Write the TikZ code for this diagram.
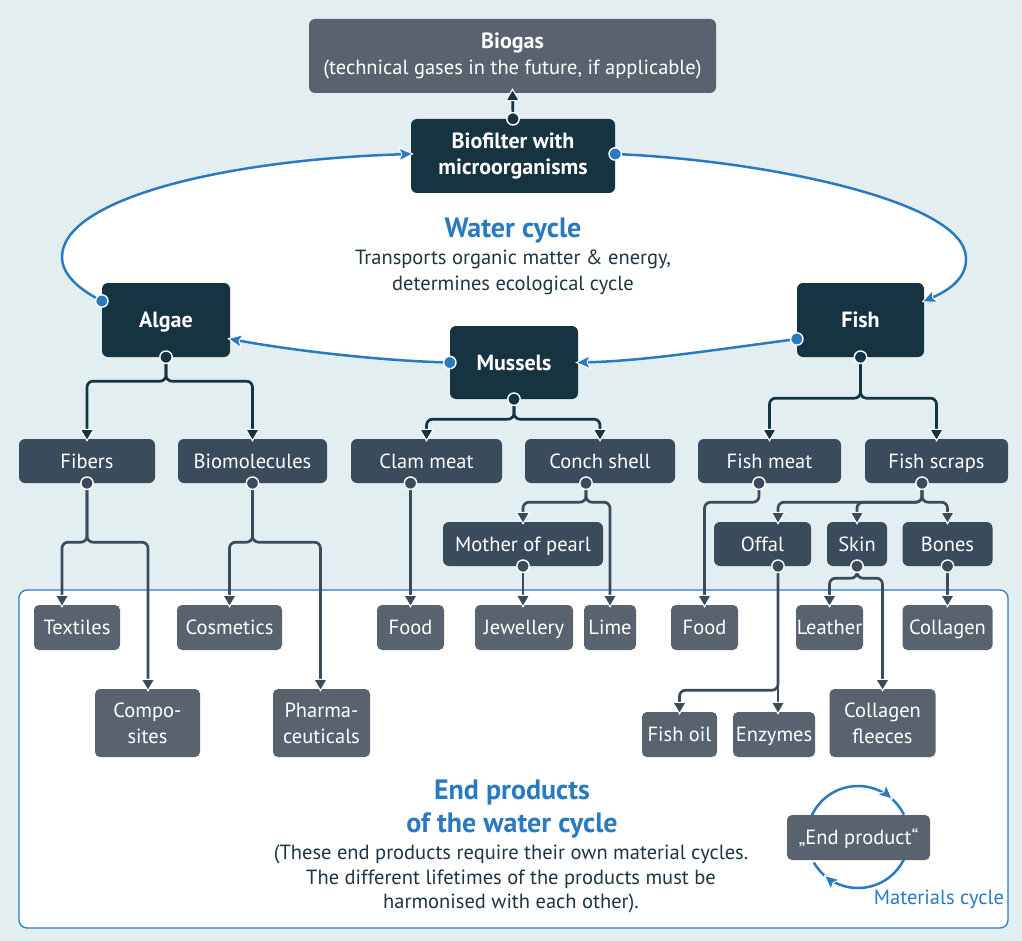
\documentclass[tikz,border=0pt]{standalone}
\usepackage{fontspec}
\setmainfont{PT Sans}
\usetikzlibrary{arrows.meta,calc}
\definecolor{bg}{HTML}{E3EEF1}
\definecolor{deep}{HTML}{163341}
\definecolor{mid}{HTML}{3A4B5B}
\definecolor{soft}{HTML}{58636F}
\definecolor{wblue}{HTML}{2A7AC2}
\definecolor{ink}{HTML}{1E3442}
\newcommand\nodefont{\fontsize{20.5}{26}\selectfont}
\newcommand\boldfont{\bfseries\fontsize{22}{26}\selectfont}
\newcommand\jointdot[2]{\filldraw[fill=#1,draw=white,line width=1.4pt] (#2) circle (6.2pt);}
\begin{document}
\begin{tikzpicture}[x=1pt,y=-1pt,
  box/.style={rounded corners=6pt,text=white,align=center,inner sep=0pt,font=\nodefont},
  oneline/.style={text height=14.4pt,text depth=0pt},
  boldline/.style={text height=15.4pt,text depth=0pt},
  topbox/.style={box,fill=deep,minimum height=74pt,font=\boldfont},
  midbox/.style={box,oneline,fill=mid,minimum height=44pt},
  endbox/.style={box,oneline,fill=soft,minimum height=45pt,rounded corners=5pt},
  tallbox/.style={box,fill=soft,minimum height=68pt,rounded corners=5pt},
  wd/.style={minimum width=#1pt},
  tree/.style={line width=2.7pt,draw=#1,rounded corners=6pt,shorten >=-3pt,
    -{Triangle[length=13pt,width=15pt,fill=#1,color=white,line width=1.1pt]}},
  tree/.default=mid,
  wline/.style={line width=2.5pt,draw=wblue,shorten >=-3pt,
    -{Stealth[length=16pt,width=15pt,inset=3.5pt,fill=wblue,color=white,line width=0.9pt]}},
  cycarc/.style={line width=2.5pt,draw=wblue},
]
% canvas
\useasboundingbox (0,0) rectangle (1022,941);
\fill[bg] (0,0) rectangle (1022,941);

% inner area of the water cycle
\fill[white] (411,154) .. controls (220,160) and (62,200) .. (62,257)
  .. controls (62,275) and (80,290) .. (102,301) -- (166,320) -- (228,339)
  .. controls (290,350) and (380,358) .. (450,362) -- (578,362)
  .. controls (640,360) and (700,352) .. (797,339) -- (860,320) -- (924,301)
  .. controls (945,292) and (967,280) .. (966,258)
  .. controls (965,200) and (760,160) .. (615,154) -- cycle;

% frame of the end products
\draw[wblue,line width=1.3pt,fill=white,rounded corners=8pt] (19,590) rectangle (1008,928);

% main stations
\node[box,fill=soft,wd=407,minimum height=74pt] (biogas) at (512.5,56)
  {{\boldfont Biogas}\\(technical gases in the future, if applicable)};
\node[topbox,wd=204] (bio) at (513,156) {Biofilter with\\microorganisms};
\node[topbox,boldline,wd=128] (algae) at (166,320) {Algae};
\node[topbox,boldline,wd=128,minimum height=73pt] (mussels) at (514,362.5) {Mussels};
\node[topbox,boldline,wd=127] (fish) at (860.5,320) {Fish};

% intermediate products
\node[midbox,wd=136] (fibers) at (87,461) {Fibers};
\node[midbox,wd=149] (biomol) at (252.5,461) {Biomolecules};
\node[midbox,wd=151] (clam) at (426.5,461) {Clam meat};
\node[midbox,wd=150] (conch) at (600,461) {Conch shell};
\node[midbox,wd=143] (fishmeat) at (769.5,461) {Fish meat};
\node[midbox,wd=143] (scraps) at (936.5,461) {Fish scraps};
\node[midbox,wd=160] (pearl) at (523,544) {Mother of pearl};
\node[midbox,wd=97] (offal) at (762.5,544) {Offal};
\node[midbox,wd=60] (skin) at (857,544) {Skin};
\node[midbox,wd=90] (bones) at (947.5,544) {Bones};

% end products
\node[endbox,wd=86] (textiles) at (77,627.5) {Textiles};
\node[endbox,wd=105] (cosmetics) at (229.5,627.5) {Cosmetics};
\node[endbox,wd=67] (food1) at (410.5,627.5) {Food};
\node[endbox,wd=98] (jewel) at (524,627.5) {Jewellery};
\node[endbox,wd=52] (lime) at (610,627.5) {Lime};
\node[endbox,wd=67] (food2) at (704.5,627.5) {Food};
\node[endbox,wd=67] (leather) at (829.5,627.5) {Leather};
\node[endbox,wd=90] (collagen) at (947.5,627.5) {Collagen};
\node[tallbox,wd=105] (composites) at (147.5,723) {Compo-\\sites};
\node[tallbox,wd=97] (pharma) at (321.5,723) {Pharma-\\ceuticals};
\node[endbox,wd=75] (fishoil) at (679.5,734.5) {Fish oil};
\node[endbox,wd=82] (enzymes) at (774,734.5) {Enzymes};
\node[tallbox,wd=106] (fleeces) at (882.5,723) {Collagen\\fleeces};

% texts
\node[text=wblue,font=\bfseries\fontsize{28}{33}\selectfont] (wtitle) at (513,231) {Water cycle};
\node[text=ink,align=center,font=\fontsize{20.5}{26}\selectfont] (wtext) at (513,272)
  {Transports organic matter \& energy,\\determines ecological cycle};
\node[text=wblue,align=center,font=\bfseries\fontsize{28}{33}\selectfont] (etitle) at (512,809.5)
  {End products\\of the water cycle};
\node[text=ink,align=center,font=\fontsize{20.5}{24.5}\selectfont] (etext) at (511,879)
  {(These end products require their own material cycles.\\The different lifetimes of the products must be\\harmonised with each other).};

% materials cycle
\draw[cycarc] plot[domain=312:334,samples=12] ({858+51*cos(\x)},{837+51*sin(\x)});
\draw[cycarc] plot[domain=131:150,samples=12] ({858+51*cos(\x)},{837+51*sin(\x)});
\draw[wline,shorten >=0pt] plot[domain=205:313,samples=50] ({858+51*cos(\x)},{837+51*sin(\x)});
\draw[wline,shorten >=0pt] plot[domain=26:132,samples=50] ({858+51*cos(\x)},{837+51*sin(\x)});
\node[endbox,wd=143] (endprod) at (858.5,837.5) {„End product“};
\node[text=wblue,font=\nodefont] (mclabel) at (939,899) {Materials cycle};

% water cycle
\draw[wline] ([yshift=19pt]algae.west) .. controls (80,290) and (62,275) .. (62,257)
  .. controls (62,200) and (220,160) .. ([yshift=2pt]bio.west);
\draw[wline] ([yshift=2pt]bio.east) .. controls (760,160) and (965,200) .. (966,258)
  .. controls (967,280) and (945,292) .. ([yshift=19pt]fish.east);
\draw[wline] ([yshift=-19pt]fish.west) .. controls (700,352) and (640,361) .. (mussels.east);
\draw[wline] (mussels.west) .. controls (380,361) and (290,350) .. ([yshift=-19pt]algae.east);
\draw[tree=deep,shorten >=-5pt] (bio.north) -- (biogas.south);

% branches of the stations
\draw[tree=deep] (algae.south) -- ++(0,24) -| (fibers.north);
\draw[tree=deep] (algae.south) -- ++(0,24) -| (biomol.north);
\draw[tree=deep] (mussels.south) -- ++(0,20) -| (clam.north);
\draw[tree=deep] (mussels.south) -- ++(0,20) -| (conch.north);
\draw[tree=deep] (fish.south) -- ++(0,41) -| (fishmeat.north);
\draw[tree=deep] (fish.south) -- ++(0,41) -| (scraps.north);

% branches of the intermediate products
\draw[tree] (fibers.south) -- ++(0,59) -| ([xshift=-15pt]textiles.north);
\draw[tree] (fibers.south) -- ++(0,59) -| ([xshift=0.5pt]composites.north);
\draw[tree] (biomol.south) -- ++(0,59) -| (cosmetics.north);
\draw[tree] (biomol.south) -- ++(0,59) -| ([xshift=-1pt]pharma.north);
\draw[tree] (food1.north |- clam.south) -- (food1.north);
\draw[tree] ([xshift=-14pt]conch.south) -- ++(0,19) -| (pearl.north);
\draw[tree] ([xshift=-14pt]conch.south) -- ++(0,19) -| (lime.north);
\draw[tree] (pearl.south) -- (pearl.south |- jewel.north);
\draw[tree] ([xshift=-10.5pt]fishmeat.south) -- ++(0,19) -| (food2.north);
\draw[tree] ([xshift=-14.5pt]scraps.south) -- ++(0,19) -| ([xshift=15.5pt]offal.north);
\draw[tree] ([xshift=-14.5pt]scraps.south) -- ++(0,19) -| (skin.north);
\draw[tree] ([xshift=-14.5pt]scraps.south) -- ++(0,19) -| (bones.north);
\draw[tree] ([xshift=15.5pt]offal.south) -- ([xshift=15.5pt]offal.south |- enzymes.north);
\draw[tree] ([xshift=15.5pt]offal.south) -- ++(0,124) -| (fishoil.north);
\draw[tree] (skin.south) -- ++(0,12) -| (leather.north);
\draw[tree] (skin.south) -- ++(0,12) -| (fleeces.north);
\draw[tree] (bones.south) -- (collagen.north);

% joints
\jointdot{wblue}{[yshift=19pt]algae.west}
\jointdot{wblue}{[yshift=2pt]bio.east}
\jointdot{wblue}{[yshift=-19pt]fish.west}
\jointdot{wblue}{mussels.west}
\jointdot{deep}{bio.north}
\jointdot{deep}{algae.south}
\jointdot{deep}{mussels.south}
\jointdot{deep}{fish.south}
\jointdot{mid}{fibers.south}
\jointdot{mid}{biomol.south}
\jointdot{mid}{food1.north |- clam.south}
\jointdot{mid}{[xshift=-14pt]conch.south}
\jointdot{mid}{pearl.south}
\jointdot{mid}{[xshift=-10.5pt]fishmeat.south}
\jointdot{mid}{[xshift=-14.5pt]scraps.south}
\jointdot{mid}{[xshift=15.5pt]offal.south}
\jointdot{mid}{skin.south}
\jointdot{mid}{bones.south}
\end{tikzpicture}
\end{document}
